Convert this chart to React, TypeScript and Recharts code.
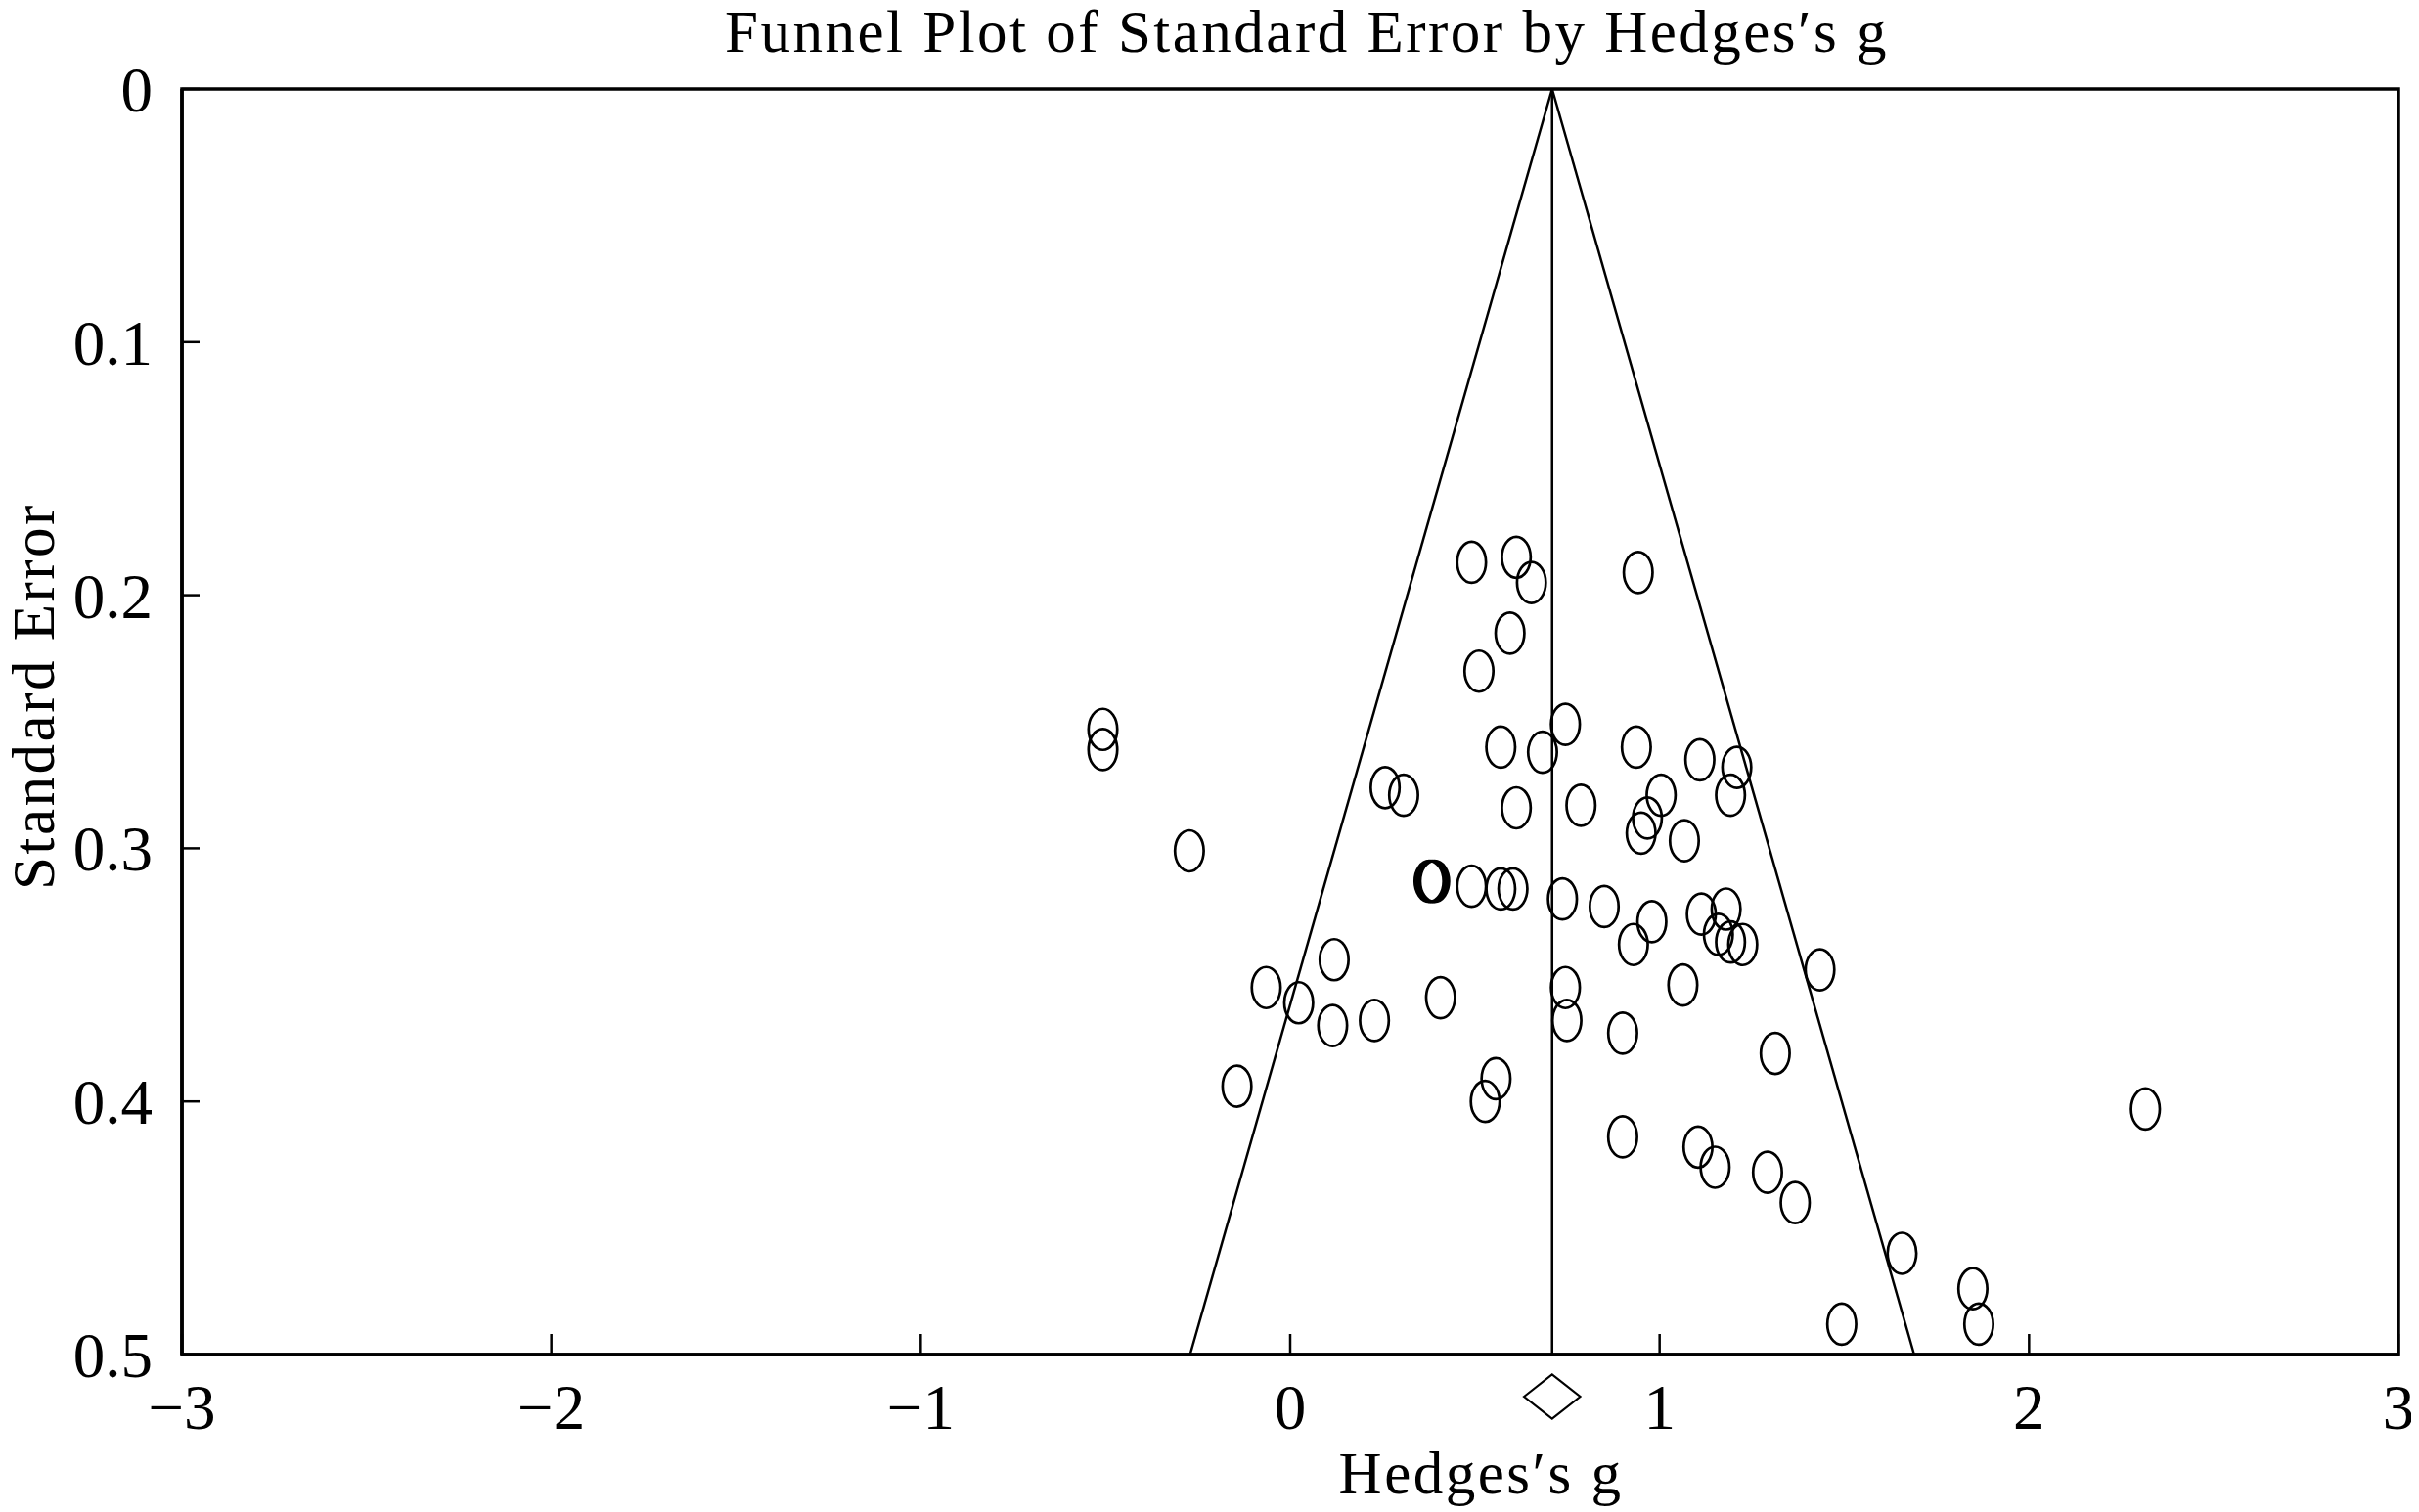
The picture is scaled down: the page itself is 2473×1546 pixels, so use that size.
import { ScatterChart, Scatter, XAxis, YAxis, ReferenceLine, ReferenceArea } from "recharts";

// study effects (Hedges's g) and their standard errors
const gValues = [
  0.491, 0.612, 0.653, 0.942, 0.595, 0.511, -0.507, -0.507, 0.745, 0.57,
  0.683, 0.937, 1.109, 1.209, 0.257, 0.307, 1.004, 1.192, 0.612, 0.787,
  0.967, 0.95, 1.067, -0.273, 0.376, 0.381, 0.386, 0.391, 0.491, 0.57, 0.603,
  0.737, 0.85, 1.18, 1.113, 0.979, 1.159, 1.192, 1.225, 0.929, 0.119,
  1.434, 1.063, -0.065, 0.745, 0.407, 0.023, 0.749, 0.228, 0.115, 0.9,
  1.313, 0.557, -0.144, 0.528, 2.315, 0.9, 1.104, 1.15, 1.292, 1.367,
  1.656, 1.848, 1.864, 1.493,
];
const seValues = [
  0.187, 0.185, 0.195, 0.191, 0.215, 0.23, 0.253, 0.261, 0.251, 0.26,
  0.262, 0.26, 0.265, 0.268, 0.276, 0.279, 0.279, 0.279, 0.284, 0.283,
  0.288, 0.294, 0.297, 0.301, 0.313, 0.313, 0.313, 0.313, 0.315, 0.316, 0.316,
  0.32, 0.323, 0.324, 0.326, 0.329, 0.334, 0.337, 0.338, 0.338, 0.344,
  0.348, 0.354, 0.355, 0.355, 0.359, 0.361, 0.368, 0.368, 0.37, 0.373,
  0.381, 0.391, 0.394, 0.4, 0.403, 0.414, 0.418, 0.426, 0.428, 0.44,
  0.46, 0.474, 0.488, 0.488,
];

const xTicks = [-3, -2, -1, 0, 1, 2, 3];
const yTicks = [0, 0.1, 0.2, 0.3, 0.4, 0.5];
const pooledG = 0.709;
const pooledCi = [0.633, 0.785];

const X_MIN = -3;
const X_MAX = 3;
const SE_MAX = 0.5;

const W = 2460;
const H = 1538;
const Y_AXIS_W = 178;
const MARGIN = { top: 83, right: 16, bottom: 11, left: 0 };
const PLOT_W = W - Y_AXIS_W - MARGIN.left - MARGIN.right;
const FONT = "'Liberation Serif', 'Times New Roman', serif";
const LABEL_STYLE = { letterSpacing: "2.5px" };

const studies = gValues.map((g, i) => ({ g, se: seValues[i] }));
const pooled = [{ g: pooledG, se: SE_MAX }];
const lowerLimit = pooledG - 1.96 * SE_MAX;
const upperLimit = pooledG + 1.96 * SE_MAX;

const fmtX = (v: number) => (v < 0 ? `\u2212${-v}` : `${v}`);

const Ring = (p: any) => (
  <ellipse cx={p.cx} cy={p.cy} rx={14.7} ry={21} fill="none" stroke="#000" strokeWidth={2.7} />
);

const Diamond = (p: any) => {
  const hw = ((pooledCi[1] - pooledCi[0]) / 2) * (PLOT_W / (X_MAX - X_MIN));
  const cx = p.cx;
  const cy = p.cy + 43;
  return (
    <path
      d={`M${cx - hw},${cy} L${cx},${cy - 22.5} L${cx + hw},${cy} L${cx},${cy + 22.5} Z`}
      fill="none"
      stroke="#000"
      strokeWidth={2.2}
    />
  );
};

const XLabel = (p: any) => {
  const vb = p.viewBox;
  return (
    <text x={vb.x + 1328} y={vb.y + 142} textAnchor="middle" fontSize={61} fontFamily={FONT} fill="#000" style={LABEL_STYLE}>
      Hedges′s g
    </text>
  );
};

const YLabel = (p: any) => {
  const vb = p.viewBox;
  const cy = vb.y + 621;
  return (
    <text x={47} y={cy} textAnchor="middle" fontSize={61} fontFamily={FONT} fill="#000" style={LABEL_STYLE} transform={`rotate(-90 47 ${cy})`}>
      Standard Error
    </text>
  );
};

export default function App() {
  const tick = { fontSize: 65, fill: "#000", fontFamily: FONT };
  return (
    <div style={{ position: "relative", width: W, height: H, background: "#fff" }}>
      <svg width={W} height={80} style={{ position: "absolute", top: 0, left: 0, zIndex: 2, overflow: "visible" }}>
        <text x={1328} y={45} textAnchor="middle" fontSize={61} fontFamily={FONT} fill="#000" style={LABEL_STYLE}>
          Funnel Plot of Standard Error by Hedges′s g
        </text>
      </svg>
      <ScatterChart width={W} height={H} margin={MARGIN}>
        <XAxis
          type="number"
          dataKey="g"
          domain={[X_MIN, X_MAX]}
          ticks={xTicks}
          interval={0}
          tickFormatter={fmtX}
          tick={tick}
          tickSize={-21}
          tickMargin={51}
          tickLine={{ stroke: "#000", strokeWidth: 2.5 }}
          axisLine={{ stroke: "#000", strokeWidth: 3.5 }}
          height={150}
          label={{ content: XLabel }}
        />
        <YAxis
          type="number"
          dataKey="se"
          domain={[0, SE_MAX]}
          reversed
          ticks={yTicks}
          interval={0}
          tick={tick}
          tickSize={-18}
          tickMargin={48}
          tickLine={{ stroke: "#000", strokeWidth: 2.5 }}
          axisLine={{ stroke: "#000", strokeWidth: 3.5 }}
          width={Y_AXIS_W}
          label={{ content: YLabel }}
        />
        <ReferenceArea x1={X_MIN} x2={X_MAX} y1={0} y2={SE_MAX} fill="none" stroke="#000" strokeWidth={3.5} />
        <ReferenceLine x={pooledG} stroke="#000" strokeWidth={2.5} />
        <ReferenceLine
          segment={[{ x: pooledG, y: 0 }, { x: lowerLimit, y: SE_MAX }]}
          stroke="#000"
          strokeWidth={2.5}
        />
        <ReferenceLine
          segment={[{ x: pooledG, y: 0 }, { x: upperLimit, y: SE_MAX }]}
          stroke="#000"
          strokeWidth={2.5}
        />
        <Scatter data={studies} shape={Ring} isAnimationActive={false} />
        <Scatter data={pooled} shape={Diamond} isAnimationActive={false} />
      </ScatterChart>
    </div>
  );
}
